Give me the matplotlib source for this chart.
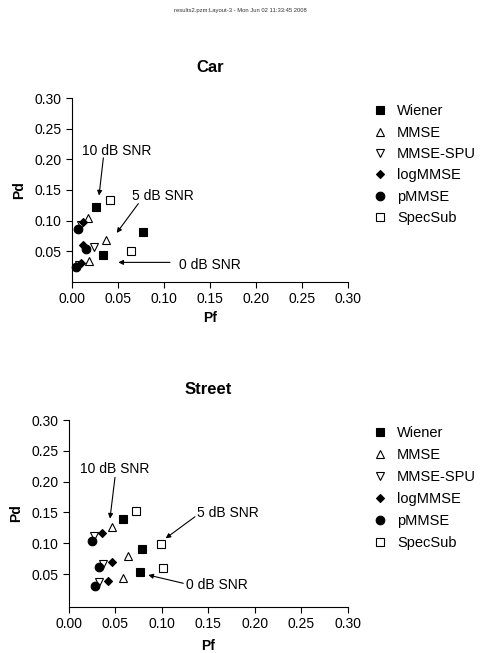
import matplotlib
matplotlib.use('Agg')
import matplotlib.pyplot as plt

plt.rcParams['font.family'] = ['Liberation Sans', 'DejaVu Sans']

methods = ['Wiener', 'MMSE', 'MMSE-SPU', 'logMMSE', 'pMMSE', 'SpecSub']
markers = ['s', '^', 'v', 'D', 'o', 's']
filled = [True, False, False, True, True, False]
msizes = [6, 5.5, 5.5, 4.5, 6.2, 6]

# Car: points for 10, 5, 0 dB SNR (Pf, Pd)
car_pf = {
    'Wiener':   [0.026, 0.078, 0.034],
    'MMSE':     [0.018, 0.037, 0.019],
    'MMSE-SPU': [0.010, 0.024, 0.008],
    'logMMSE':  [0.012, 0.012, 0.010],
    'pMMSE':    [0.007, 0.015, 0.005],
    'SpecSub':  [0.042, 0.064],
}
car_pd = {
    'Wiener':   [0.122, 0.081, 0.044],
    'MMSE':     [0.105, 0.069, 0.034],
    'MMSE-SPU': [0.093, 0.057, 0.028],
    'logMMSE':  [0.097, 0.060, 0.030],
    'pMMSE':    [0.086, 0.053, 0.024],
    'SpecSub':  [0.133, 0.051],
}

# Street
street_pf = {
    'Wiener':   [0.058, 0.079, 0.077],
    'MMSE':     [0.047, 0.064, 0.058],
    'MMSE-SPU': [0.027, 0.037, 0.033],
    'logMMSE':  [0.036, 0.047, 0.042],
    'pMMSE':    [0.025, 0.033, 0.028],
    'SpecSub':  [0.072, 0.099, 0.101],
}
street_pd = {
    'Wiener':   [0.140, 0.091, 0.053],
    'MMSE':     [0.127, 0.079, 0.043],
    'MMSE-SPU': [0.111, 0.067, 0.037],
    'logMMSE':  [0.116, 0.069, 0.038],
    'pMMSE':    [0.104, 0.061, 0.031],
    'SpecSub':  [0.152, 0.099, 0.060],
}

ticks = [0.00, 0.05, 0.10, 0.15, 0.20, 0.25, 0.30]
yticks = [0.05, 0.10, 0.15, 0.20, 0.25, 0.30]

fig = plt.figure(figsize=(4.81, 6.53), dpi=100)
fig.text(0.5, 0.984, 'results2.pzm:Layout-3 - Mon Jun 02 11:33:45 2008',
         ha='center', va='center', fontsize=4.2, color='#333333')


def panel(rect, title, pf, pd, notes, leg_y, xpad, ybot, lspace):
    ax = fig.add_axes(rect)
    for m, mk, f, ms in zip(methods, markers, filled, msizes):
        ax.plot(pf[m], pd[m], linestyle='none', marker=mk, ms=ms,
                mfc='black' if f else 'white', mec='black', mew=0.8,
                label=m, clip_on=False)
    ax.set_xlim(0, 0.3)
    ax.set_ylim(ybot, 0.3)
    ax.set_xticks(ticks)
    ax.set_xticklabels(['%.2f' % t for t in ticks])
    ax.set_yticks(yticks)
    ax.set_yticklabels(['%.2f' % t for t in yticks])
    ax.spines['top'].set_visible(False)
    ax.spines['right'].set_visible(False)
    ax.tick_params(direction='out', length=4, width=0.8, labelsize=10)
    ax.set_title(title, fontsize=12, fontweight='bold', pad=19)
    ax.set_xlabel('Pf', fontsize=10, fontweight='bold', labelpad=xpad)
    ax.set_ylabel('Pd', fontsize=10, fontweight='bold', labelpad=6)
    for txt, tpos, start, tip in notes:
        ax.text(tpos[0], tpos[1], txt, ha='center', va='center', fontsize=10)
        ax.annotate('', xy=tip, xytext=start,
                    arrowprops=dict(arrowstyle='-|>', color='black', lw=0.8,
                                    shrinkA=0, shrinkB=0, mutation_scale=7))
    ax.legend(loc='upper left', bbox_to_anchor=(0.775, leg_y),
              bbox_transform=fig.transFigure, frameon=False, fontsize=10.5,
              handlelength=1.0, handletextpad=0.66, labelspacing=lspace,
              borderaxespad=0, borderpad=0, numpoints=1, markerscale=1.0)
    return ax


car_notes = [
    ('10 dB SNR', (0.049, 0.2145), (0.0344, 0.2026), (0.0297, 0.141)),
    ('5 dB SNR', (0.0996, 0.1396), (0.0724, 0.1277), (0.0489, 0.0798)),
    ('0 dB SNR', (0.1503, 0.0272), (0.1068, 0.0316), (0.0507, 0.0316)),
]
street_notes = [
    ('10 dB SNR', (0.0498, 0.220), (0.0498, 0.207), (0.0444, 0.140)),
    ('5 dB SNR', (0.171, 0.1485), (0.1358, 0.143), (0.1043, 0.108)),
    ('0 dB SNR', (0.159, 0.032), (0.1232, 0.035), (0.0856, 0.0484)),
]

panel([0.1491, 0.5686, 0.5738, 0.2809], 'Car', car_pf, car_pd, car_notes,
      0.840, 3.7, 0.0, 0.5)
panel([0.1428, 0.0709, 0.5800, 0.2859], 'Street', street_pf, street_pd,
      street_notes, 0.348, 5.5, -0.003, 0.55)

fig.savefig('out.png', dpi=100)
